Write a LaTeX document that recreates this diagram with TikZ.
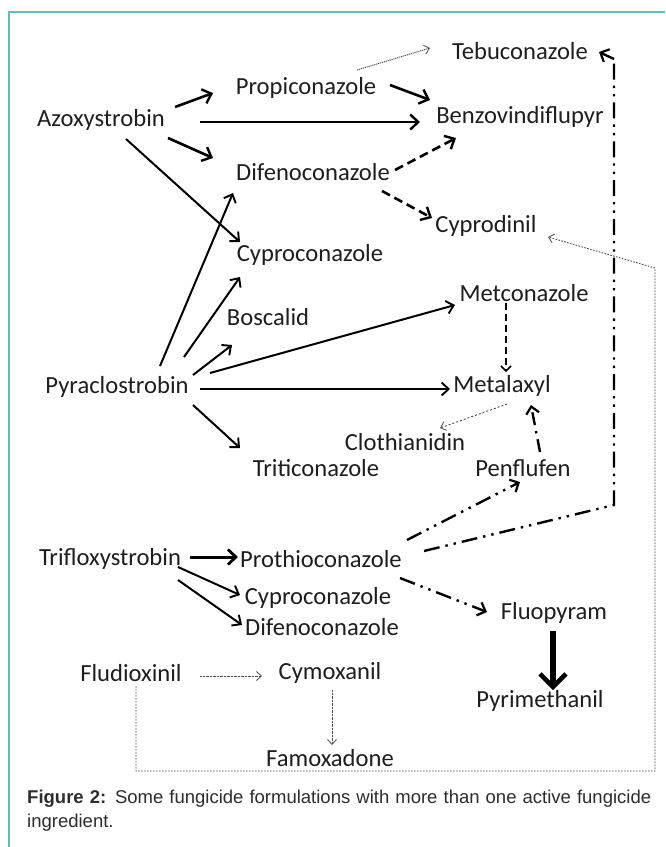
\documentclass[tikz,border=0pt]{standalone}
\usepackage{fontspec}
\setmainfont{Liberation Sans}
\newfontfamily\labfont{Carlito}
\usetikzlibrary{arrows.meta,calc}
\definecolor{frameteal}{RGB}{88,192,182}
\definecolor{captxt}{RGB}{45,45,45}
\definecolor{labtxt}{RGB}{30,30,30}
\begin{document}
\begin{tikzpicture}[x=1pt,y=-1pt,
  lab/.style={inner sep=0pt,anchor=center,text=labtxt,font=\labfont\fontsize{24.6}{28}\selectfont},
  big/.style={-{Straight Barb[length=8pt,width=15pt,line width=2.4pt]},line width=2.6pt},
  mid/.style={-{Straight Barb[length=7pt,width=13pt,line width=1.9pt]},line width=2pt},
  dsh/.style={big,dash pattern=on 9pt off 5pt},
  ddd/.style={-{Straight Barb[length=7pt,width=14pt,line width=2.2pt]},line width=2.4pt,dash pattern=on 16pt off 6pt on 2.4pt off 6pt on 2.4pt off 6pt},
  ddn/.style={ddd,-},
  dd/.style={-{Straight Barb[length=7pt,width=13pt,line width=2.2pt]},line width=2.4pt,dash pattern=on 13pt off 6pt on 2.4pt off 6pt},
  fine/.style={-{Straight Barb[length=5pt,width=9pt,line width=0.8pt]},line width=0.9pt,draw=black!70,dash pattern=on 1.2pt off 0.8pt},
  finedash/.style={fine,dash pattern=on 2pt off 2pt},
]
\useasboundingbox (0,0) rectangle (665,847);
\fill[white] (0,0) rectangle (665,847);
\draw[frameteal,line width=1.3pt] (9,847) -- (9,12) -- (665,12);

% labels
\node[lab] (azo)  at (101,120) {Azoxystrobin};
\node[lab] (prop) at (306,88)  {Propiconazole};
\node[lab] (benz) at (520,117) {Benzovindiflupyr};
\node[lab] (teb)  at (520,51)  {Tebuconazole};
\node[lab] (difA) at (313,172) {Difenoconazole};
\node[lab] (cypd) at (486,226) {Cyprodinil};
\node[lab] (cypA) at (310,255) {Cyproconazole};
\node[lab] (bosc) at (268,317) {Boscalid};
\node[lab] (pyra) at (117,387) {Pyraclostrobin};
\node[lab] (trit) at (316,468) {Triticonazole};
\node[lab] (metc) at (524,293) {Metconazole};
\node[lab] (metl) at (502,386) {Metalaxyl};
\node[lab] (clot) at (405,442) {Clothianidin};
\node[lab] (penf) at (523,468) {Penflufen};
\node[lab] (trif) at (110,559) {Trifloxystrobin};
\node[lab] (proth) at (321,559) {Prothioconazole};
\node[lab] (cypB) at (318,598) {Cyproconazole};
\node[lab] (difB) at (322,627) {Difenoconazole};
\node[lab] (fluo) at (554,613) {Fluopyram};
\node[lab] (pyri) at (540,701) {Pyrimethanil};
\node[lab] (flud) at (131,673) {Fludioxinil};
\node[lab] (cymo) at (330,673) {Cymoxanil};
\node[lab] (famo) at (330,758) {Famoxadone};

% Azoxystrobin
\draw[big] ($(azo)+(74,-13)$) -- ($(prop)+(-93,5)$);
\draw[big] ($(azo)+(99,2)$) -- ($(benz)+(-100,5)$);
\draw[big] ($(azo)+(67,18)$) -- ($(difA)+(-100,-14)$);
\draw[mid] ($(azo)+(25,19)$) -- ($(cypA)+(-70,-13)$);
\draw[big] ($(prop)+(84,-3)$) -- ($(benz)+(-90,-17)$);
\draw[dsh] ($(difA)+(82,-2)$) -- ($(benz)+(-64,21)$);
\draw[dsh] ($(difA)+(69,19)$) -- ($(cypd)+(-54,-8)$);
\draw[fine] ($(prop)+(51,-18)$) -- ($(teb)+(-90,-3)$);

% Pyraclostrobin
\draw[mid] ($(pyra)+(43,-21)$) -- ($(difA)+(-80,21)$);
\draw[mid] ($(pyra)+(67,-30)$) -- ($(cypA)+(-70,22)$);
\draw[mid] ($(pyra)+(76,-12)$) -- ($(bosc)+(-36,28)$);
\draw[mid] ($(pyra)+(93,-14)$) -- ($(metc)+(-69,12)$);
\draw[mid] ($(pyra)+(83,2)$) -- ($(metl)+(-52,3)$);
\draw[mid] ($(pyra)+(76,18)$) -- ($(trit)+(-76,-20)$);
\draw[-{Straight Barb[length=5pt,width=10pt,line width=1.5pt]},line width=1.8pt,dash pattern=on 7pt off 4pt] ($(metc)+(-18,10)$) -- ($(metl)+(4,-14)$);
\draw[finedash] ($(metl)+(5,18)$) -- ($(clot)+(35,-14)$);
\draw[dd] ($(penf)+(17,-16)$) -- ($(metl)+(29,19)$);

% Trifloxystrobin
\draw[-{Straight Barb[length=8pt,width=15pt,line width=2.8pt]},line width=3pt] ($(trif)+(80,-2)$) -- ($(proth)+(-83,-2)$);
\draw[mid] ($(trif)+(68,8)$) -- ($(cypB)+(-78,-3)$);
\draw[mid] ($(trif)+(68,21)$) -- ($(difB)+(-80,-2)$);
\draw[ddd] ($(proth)+(86,-19)$) -- ($(penf)+(-3,14)$);
\draw[ddd] ($(proth)+(79,19)$) -- ($(fluo)+(-67,-1)$);
\coordinate (tc1) at ($(teb)+(94,454)$);
\coordinate (tc2) at ($(teb)+(94,8)$);
\draw[ddn] ($(proth)+(103,-8)$) -- (tc1) -- (tc2);
\draw[-{Straight Barb[length=7pt,width=14pt,line width=2.2pt]},line width=2.4pt] (tc2) -- ($(teb)+(79,1)$);
\draw[-{Straight Barb[length=13pt,width=26pt,line width=4.5pt]},line width=6pt] ($(fluo)+(-1,18)$) -- ($(pyri)+(13,-11)$);

% Fludioxinil
\draw[fine,dash pattern=on 1pt off 0.4pt] ($(flud)+(69,3)$) -- ($(cymo)+(-68,3)$);
\draw[fine,dash pattern=on 1pt off 0.4pt] ($(cymo)+(2,17)$) -- ($(famo)+(2,-13)$);
\coordinate (lc1) at ($(flud)+(5,98)$);
\coordinate (lc2) at ($(cypd)+(169,545)$);
\coordinate (lc3) at ($(cypd)+(169,42)$);
\draw[fine,dash pattern=on 1.6pt off 1.4pt] ($(flud)+(5,13)$) -- (lc1) -- (lc2) -- (lc3) -- ($(cypd)+(62,11)$);

% caption
\node[anchor=north west,inner sep=0pt,text width=624pt,align=justify,text=captxt,
  font=\fontsize{18.5}{24}\selectfont] (cap) at (27,790)
  {\textbf{Figure 2:} Some fungicide formulations with more than one active fungicide ingredient.};
\end{tikzpicture}
\end{document}
